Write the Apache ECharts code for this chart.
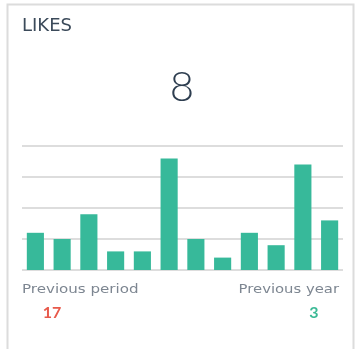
<!DOCTYPE html>
<html>
<head>
<meta charset="utf-8">
<script src="https://cdn.jsdelivr.net/npm/echarts@6/dist/echarts.min.js"></script>
<style>
  html, body { margin: 0; padding: 0; background: #fff; }
  #chart { width: 356px; height: 349px; }
</style>
</head>
<body>
<div id="chart"></div>
<script>
// Daily likes for the selected period
const days = ['1', '2', '3', '4', '5', '6', '7', '8', '9', '10', '11', '12'];
const likes = [6, 5, 9, 3, 3, 18, 5, 2, 6, 4, 17, 8];
const yTicks = [0, 5, 10, 15, 20];

const title = 'LIKES';
const currentValue = 8;
const previousPeriod = 17;
const previousYear = 3;

const labelFont = '"DejaVu Sans", Verdana, sans-serif';

const chart = echarts.init(document.getElementById('chart'), null, { renderer: 'canvas' });

chart.setOption({
  animation: false,
  backgroundColor: '#ffffff',
  grid: { left: 22, right: 13, top: 146, bottom: 79, containLabel: false },
  xAxis: {
    type: 'category',
    data: days,
    axisLine: { show: false },
    axisTick: { show: false },
    axisLabel: { show: false }
  },
  yAxis: {
    type: 'value',
    min: yTicks[0],
    max: yTicks[yTicks.length - 1],
    interval: yTicks[1] - yTicks[0],
    axisLine: { show: false },
    axisTick: { show: false },
    axisLabel: { show: false },
    splitLine: { lineStyle: { color: '#dddddd', width: 2 } }
  },
  series: [{
    type: 'bar',
    data: likes,
    barCategoryGap: '36%',
    itemStyle: { color: '#37b99a' },
    z: 3
  }],
  graphic: [
    {
      type: 'rect',
      shape: { x: 7.5, y: 4.5, width: 346, height: 360 },
      style: { fill: 'none', stroke: '#dcdcdc', lineWidth: 2 },
      silent: true
    },
    {
      type: 'text',
      x: 22, y: 27, scaleX: 1.06,
      style: {
        text: title,
        font: '400 17px ' + labelFont,
        fill: '#3b4a5a',
        align: 'left',
        verticalAlign: 'middle'
      }
    },
    {
      type: 'text',
      x: 182, y: 87,
      style: {
        text: String(currentValue),
        font: '300 42px Lato, "Open Sans", sans-serif',
        fill: '#2e3e50',
        align: 'center',
        verticalAlign: 'middle'
      }
    },
    {
      type: 'text',
      x: 22, y: 290, scaleX: 1.16,
      style: {
        text: 'Previous period',
        font: '400 13px ' + labelFont,
        fill: '#7d8691',
        align: 'left',
        verticalAlign: 'middle'
      }
    },
    {
      type: 'text',
      x: 339, y: 290, scaleX: 1.14,
      style: {
        text: 'Previous year',
        font: '400 13px ' + labelFont,
        fill: '#7d8691',
        align: 'right',
        verticalAlign: 'middle'
      }
    },
    {
      type: 'text',
      x: 52, y: 313,
      style: {
        text: String(previousPeriod),
        font: '700 16px Lato, "Open Sans", sans-serif',
        fill: '#e8594b',
        align: 'center',
        verticalAlign: 'middle'
      }
    },
    {
      type: 'text',
      x: 314, y: 313,
      style: {
        text: String(previousYear),
        font: '700 16px Lato, "Open Sans", sans-serif',
        fill: '#3cba96',
        align: 'center',
        verticalAlign: 'middle'
      }
    }
  ]
});
</script>
</body>
</html>
